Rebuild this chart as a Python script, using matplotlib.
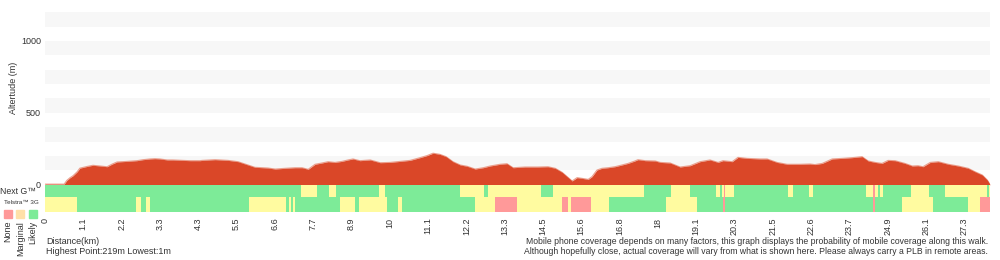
import matplotlib
matplotlib.use("Agg")
import matplotlib.pyplot as plt
from matplotlib.patches import Rectangle

plt.rcParams['font.family'] = ['Liberation Sans', 'DejaVu Sans']

# x axis is the track point index; a distance label is shown every 10 points
point_idx = [0, 5.0, 5.7, 6.5, 7.3, 8.4, 9.1, 11.0, 12.5, 14.4, 16.2, 17.5, 18.8, 21.4, 24.0,
             25.6, 27.4, 28.7, 30.0, 31.9, 33.4, 36.0, 37.9, 40.5, 41.0, 44.4, 47.8, 50.4,
             53.0, 54.8, 58.2, 60.1, 62.7, 65.3, 67.1, 68.7, 70.5, 72.3, 73.9, 75.7, 77.5,
             79.1, 80.4, 82.2, 84.9, 87.5, 90.1, 92.7, 95.3, 97.9, 99.7, 101.3, 103.1, 104.7,
             106.5, 108.4, 110.2, 112.3, 114.4, 116.2, 118.8, 120.6, 122.2, 125.3, 128.7,
             131.3, 133.2, 135.0, 136.3, 137.6, 138.9, 140.2, 141.8, 142.8, 144.1, 145.4,
             147.0, 148.8, 150.6, 152.2, 154.0, 154.8, 156.7, 159.3, 160.6, 163.2, 165.8,
             168.4, 171.0, 173.6, 175.7, 177.0, 179.4, 180.9, 183.3, 186.7, 188.5, 191.1,
             193.7, 197.1, 199.7, 201.0, 202.9, 205.5, 208.1, 210.7, 213.3, 214.9, 216.7,
             218.5, 220.1, 221.9, 224.5, 226.4, 227.9, 229.2, 231.1, 233.2, 235.8, 238.4,
             241.0, 242.8, 244.7, 246.0, 246.7]
altitude = [4, 4, 30, 48, 62, 90, 115, 127, 135, 130, 125, 143, 158, 162, 167,
            174, 179, 181, 179, 172, 172, 169, 167, 167, 169, 174, 169, 160,
            137, 121, 116, 109, 114, 118, 118, 107, 142, 151, 160, 155, 162,
            172, 179, 167, 172, 153, 155, 162, 169, 188, 202, 219, 211, 195,
            160, 137, 128, 109, 118, 130, 142, 146, 118, 123, 123,
            125, 114, 86, 56, 26, 49, 44, 37, 56, 102, 114,
            118, 125, 137, 148, 165, 174, 167, 165, 155, 151, 123,
            132, 160, 172, 155, 167, 160, 190, 183, 179, 179, 155,
            142, 142, 144, 140, 148, 179, 183, 188, 195, 165, 155,
            148, 169, 167, 148, 130, 132, 125, 155, 160, 142, 130,
            114, 90, 67, 32, 1]

tick_labels = ["0", "1.1", "2.2", "3.3", "4.3", "5.5", "6.6", "7.7", "8.9", "10", "11.1",
               "12.2", "13.3", "14.5", "15.6", "16.8", "18", "19.1", "20.3", "21.5",
               "22.6", "23.7", "24.9", "26.1", "27.3"]

# coverage: segment start points and level (N = none, M = marginal, L = likely)
nextg_start = [0, 66.8, 71.0, 74.2, 76.0, 87.2, 88.8, 108.4, 114.6, 115.7, 129.5, 132.6,
               156.4, 163.4, 168.4, 175.2, 176.2, 176.8, 177.3, 177.5, 179.9, 193.9, 195.3,
               199.5, 200.5, 214.4, 216.2, 216.7, 217.5, 218.0, 218.8, 226.1, 230.8, 235.0,
               246.0, 246.5]
nextg_level = ["L", "M", "L", "M", "L", "M", "L", "M", "L", "M", "L", "M",
               "L", "M", "L", "M", "L", "M", "N", "M", "L", "M", "L",
               "M", "L", "M", "N", "M", "L", "M", "L", "M", "L", "M",
               "L", "M"]
g3_start = [0, 8.3, 23.8, 25.0, 26.4, 27.4, 53.3, 62.9, 63.7, 64.2, 64.8, 65.3, 77.0, 80.9,
            82.0, 89.3, 92.2, 93.2, 112.3, 117.5, 123.2, 135.0, 136.6, 137.3, 142.6, 147.3,
            162.1, 170.2, 177.0, 177.5, 216.2, 216.7, 223.8, 231.9, 241.0, 244.1]
g3_level = ["M", "L", "M", "L", "M", "L", "M", "L", "M", "L", "M", "L", "M", "L",
            "M", "L", "M", "L", "M", "N", "M", "N", "M", "N", "M", "L",
            "M", "L", "N", "L", "N", "L", "M", "L", "M", "N"]
track_end = 246.7

colors = {"N": "#ff9999", "M": "#fffba0", "L": "#7deb98"}
text_col = "#333333"

fig = plt.figure(figsize=(10, 2.6), dpi=100)
ax = fig.add_axes([0.045, 75.3 / 260, 0.945, 174 / 260])
cov = fig.add_axes([0.045, 48 / 260, 0.945, 27.3 / 260], sharex=ax)

# alternating background bands
for lo in range(100, 1200, 200):
    ax.axhspan(lo, lo + 100, color="#f7f7f7", lw=0, zorder=0)
ax.fill_between(point_idx, altitude, 0, color="#da4728", lw=0, zorder=2)
ax.plot(point_idx, altitude, color="#eba08e", lw=0.8, zorder=1)
ax.set_ylim(0, 1210)
ax.set_xlim(0, track_end)
ax.set_yticks([0, 500, 1000])
ax.tick_params(axis="y", length=0, labelsize=6.5, labelcolor=text_col, pad=3)
ax.tick_params(axis="x", bottom=False, labelbottom=False)
for s in ax.spines.values():
    s.set_visible(False)


def draw_row(starts, levels, y0, h):
    ends = starts[1:] + [track_end]
    for a, b, lv in zip(starts, ends, levels):
        cov.add_patch(Rectangle((a, y0), b - a, h, color=colors[lv], lw=0))


draw_row(nextg_start, nextg_level, 15, 12)
draw_row(g3_start, g3_level, 0, 15)
cov.set_ylim(0, 27)
cov.set_yticks([])
cov.set_xticks([i * 10 for i in range(len(tick_labels))])
cov.set_xticklabels(tick_labels, rotation=90, fontsize=6.5, color=text_col)
cov.tick_params(axis="x", length=0, pad=4)
for s in cov.spines.values():
    s.set_visible(False)

fig.text(0.013, 1 - 88 / 260, "Altertude (m)", rotation=90, ha="center", va="center",
         fontsize=6.5, color=text_col)
fig.text(0.0, 1 - 192 / 260, "Next G\u2122", ha="left", va="center", fontsize=6.3, color=text_col)
fig.text(0.004, 1 - 202 / 260, "Telstra\u2122 3G", ha="left", va="center", fontsize=4.5,
         color=text_col)

legend_cols = ["#ff9999", "#ffe0a8", "#7deb98"]
legend_names = ["None", "Marginal", "Likely"]
for i, (c, name) in enumerate(zip(legend_cols, legend_names)):
    x0 = 4 + i * 12.3
    fig.patches.append(Rectangle((x0 / 1000, 1 - 217.5 / 260), 8 / 1000, 8 / 260,
                                 color=c, transform=fig.transFigure, figure=fig))
    fig.text((x0 + 4) / 1000, 1 - 221 / 260, name, rotation=90, ha="center", va="top",
             fontsize=6.5, color=text_col)

fig.text(0.046, 1 - 242 / 260, "Distance(km)", ha="left", va="center", fontsize=6.5,
         color=text_col)
fig.text(0.046, 1 - 252 / 260, "Highest Point:219m Lowest:1m", ha="left", va="center",
         fontsize=6.5, color=text_col)
fig.text(0.988, 1 - 242 / 260,
         "Mobile phone coverage depends on many factors, this graph displays the probability "
         "of mobile coverage along this walk.", ha="right", va="center", fontsize=6.2,
         color=text_col)
fig.text(0.988, 1 - 252 / 260,
         "Although hopefully close, actual coverage will vary from what is shown here. "
         "Please always carry a PLB in remote areas.", ha="right", va="center", fontsize=6.2,
         color=text_col)

plt.savefig("out.png", dpi=100)
